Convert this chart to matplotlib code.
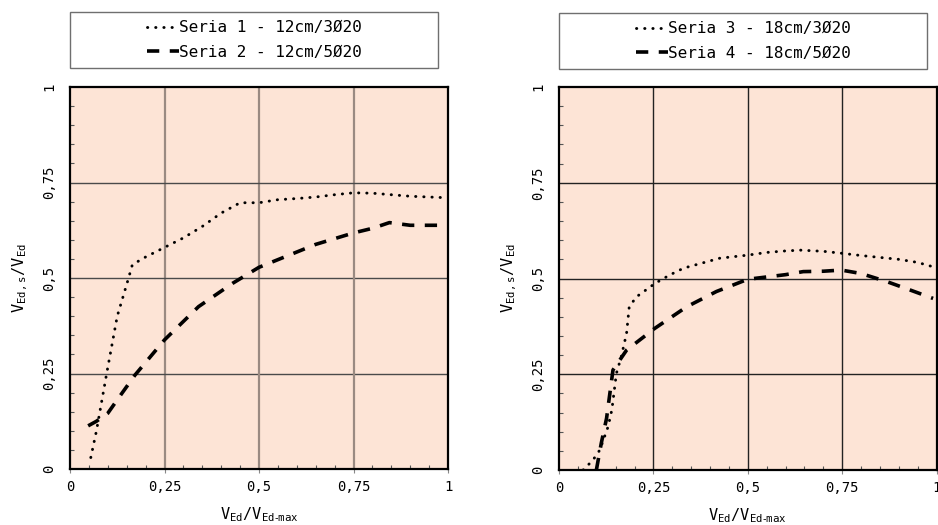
import numpy as np
import matplotlib
matplotlib.use("Agg")
import matplotlib.pyplot as plt
from matplotlib.patches import Rectangle
from matplotlib.ticker import MultipleLocator, FuncFormatter

plt.rcParams['font.family'] = ['DejaVu Sans Mono', 'DejaVu Sans']

# series (x = VEd/VEd-max, y = VEd,s/VEd)
s1_x = [0.055, 0.07, 0.097, 0.125, 0.155, 0.165, 0.2, 0.25, 0.3, 0.35, 0.4, 0.45,
        0.5, 0.55, 0.6, 0.65, 0.7, 0.75, 0.8, 0.85, 0.9, 0.95, 1.0]
s1_y = [0.03, 0.10, 0.25, 0.40, 0.50, 0.535, 0.555, 0.58, 0.605, 0.635, 0.67, 0.697,
        0.697, 0.705, 0.708, 0.712, 0.718, 0.723, 0.722, 0.718, 0.714, 0.712, 0.71]
s2_x = [0.048, 0.07, 0.1, 0.135, 0.172, 0.25, 0.34, 0.43, 0.5, 0.55, 0.6, 0.65,
        0.7, 0.75, 0.8, 0.845, 0.9, 0.95, 1.0]
s2_y = [0.113, 0.125, 0.146, 0.195, 0.246, 0.338, 0.425, 0.486, 0.528, 0.548, 0.568,
        0.588, 0.603, 0.618, 0.63, 0.645, 0.638, 0.638, 0.638]
s3_x = [0.064, 0.09, 0.108, 0.13, 0.14, 0.152, 0.165, 0.179, 0.186, 0.205, 0.254,
        0.293, 0.33, 0.426, 0.5, 0.55, 0.6, 0.64, 0.7, 0.748, 0.8, 0.85, 0.9, 0.95, 1.0]
s3_y = [0.0, 0.026, 0.052, 0.113, 0.157, 0.252, 0.296, 0.357, 0.426, 0.452, 0.487,
        0.509, 0.527, 0.553, 0.561, 0.568, 0.572, 0.574, 0.571, 0.566, 0.56, 0.555,
        0.55, 0.542, 0.528]
s4_x = [0.099, 0.112, 0.126, 0.143, 0.179, 0.254, 0.338, 0.417, 0.5, 0.6, 0.647,
        0.7, 0.748, 0.8, 0.868, 0.93, 0.991]
s4_y = [0.0, 0.07, 0.135, 0.261, 0.313, 0.37, 0.426, 0.466, 0.498, 0.51, 0.518,
        0.519, 0.522, 0.513, 0.492, 0.47, 0.448]

labels_left = ['Seria 1 - 12cm/3Ø20', 'Seria 2 - 12cm/5Ø20']
labels_right = ['Seria 3 - 18cm/3Ø20', 'Seria 4 - 18cm/5Ø20']

W, H = 938, 525
fig = plt.figure(figsize=(W / 100, H / 100), dpi=100)

bg = '#fde4d6'
comma = FuncFormatter(lambda v, p: ('%g' % v).replace('.', ','))


def make_ax(left_px, right_px, top_px, bottom_px, vgrid, hgrid):
    ax = fig.add_axes([left_px / W, 1 - bottom_px / H,
                       (right_px - left_px) / W, (bottom_px - top_px) / H])
    ax.set_facecolor(bg)
    ax.set_xlim(0, 1)
    ax.set_ylim(0, 1)
    for s in ax.spines.values():
        s.set_linewidth(1.6)
        s.set_color('black')
    ax.xaxis.set_major_locator(MultipleLocator(0.25))
    ax.yaxis.set_major_locator(MultipleLocator(0.25))
    ax.xaxis.set_minor_locator(MultipleLocator(0.05))
    ax.yaxis.set_minor_locator(MultipleLocator(0.05))
    ax.xaxis.set_major_formatter(comma)
    ax.yaxis.set_major_formatter(comma)
    ax.tick_params(axis='x', which='major', direction='out', length=3, width=0.8,
                   color='#888888', labelsize=10, pad=5)
    ax.tick_params(axis='y', which='major', length=0, labelsize=10, pad=10,
                   labelrotation=90)
    ax.tick_params(which='minor', direction='in', length=3, width=0.8, color='#555555')
    for lab in ax.get_yticklabels():
        lab.set_va('center')
    for v in [0.25, 0.5, 0.75]:
        ax.axvline(v, color=vgrid[0], lw=vgrid[1], zorder=1)
        ax.axhline(v, color=hgrid[0], lw=hgrid[1], zorder=1)
    ax.set_xlabel(r'$\mathregular{V_{Ed}/V_{Ed\text{-}max}}$', fontsize=11, labelpad=8)
    ax.set_ylabel(r'$\mathregular{V_{Ed,s}/V_{Ed}}$', fontsize=11, labelpad=9)
    return ax


def draw(ax, xs, ys, labels, box):
    l1, = ax.plot(xs[0], ys[0], color='black', lw=2.1, linestyle=(0, (0.1, 2.7)),
                  dash_capstyle='round', zorder=3)
    l2, = ax.plot(xs[1], ys[1], color='black', lw=2.6, linestyle=(0, (3.4, 2.9)),
                  zorder=3)
    x0, y0, x1, y1 = box
    fig.patches.append(Rectangle((x0 / W, 1 - y1 / H), (x1 - x0) / W, (y1 - y0) / H,
                                 transform=fig.transFigure, fill=False,
                                 edgecolor='#6f6f6f', lw=1.0))
    fig.legend([l1, l2], labels, loc='center',
               bbox_to_anchor=((x0 + x1) / 2 / W, 1 - (y0 + y1) / 2 / H),
               frameon=False, fontsize=11.5, handlelength=2.0, handletextpad=0.0,
               labelspacing=0.6, borderpad=0)


ax1 = make_ax(70, 448, 87, 469, ('#9a8a82', 1.6), ('#4a4a4a', 1.0))
draw(ax1, [s1_x, s2_x], [s1_y, s2_y], labels_left, (70, 12, 438, 68))

ax2 = make_ax(559, 936.5, 87, 470, ('#222222', 1.0), ('#222222', 1.0))
draw(ax2, [s3_x, s4_x], [s3_y, s4_y], labels_right, (559, 13, 927, 69))

fig.savefig('out.png', dpi=100)
